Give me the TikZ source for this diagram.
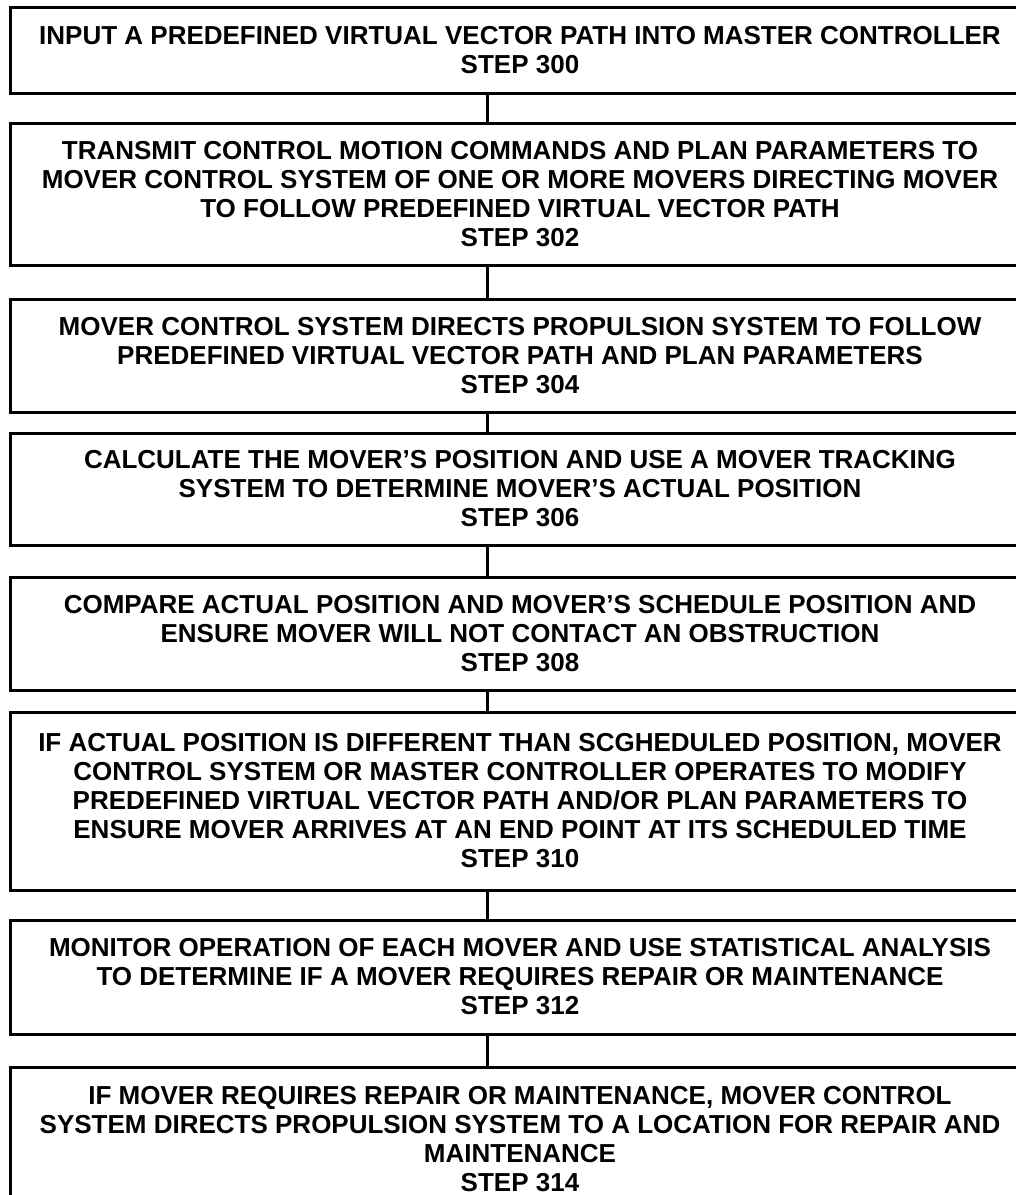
\documentclass[tikz,border=0pt]{standalone}
\usepackage{fontspec}
\setmainfont{Liberation Sans}
\begin{document}
\begin{tikzpicture}[x=1pt,y=-1pt,
  stepbox/.style={draw, line width=3pt, minimum width=1020pt, inner sep=0pt,
    align=center, font=\bfseries\fontsize{26}{29}\selectfont},
  link/.style={line width=3pt}]
\clip (0,0) rectangle (1016,1195);
\useasboundingbox (0,0) rectangle (1016,1195);
\coordinate (cx) at (487,0);
\node[stepbox, minimum height=86pt] (b1) at (520,50) {INPUT A PREDEFINED VIRTUAL VECTOR PATH INTO MASTER CONTROLLER\\STEP 300};
\node[stepbox, minimum height=142pt] (b2) at (520,194) {TRANSMIT CONTROL MOTION COMMANDS AND PLAN PARAMETERS TO\\MOVER CONTROL SYSTEM OF ONE OR MORE MOVERS DIRECTING MOVER\\TO FOLLOW PREDEFINED VIRTUAL VECTOR PATH\\STEP 302};
\node[stepbox, minimum height=113pt] (b3) at (520,355.5) {MOVER CONTROL SYSTEM DIRECTS PROPULSION SYSTEM TO FOLLOW\\PREDEFINED VIRTUAL VECTOR PATH AND PLAN PARAMETERS\\STEP 304};
\node[stepbox, minimum height=112pt] (b4) at (520,489) {CALCULATE THE MOVER'S POSITION AND USE A MOVER TRACKING\\SYSTEM TO DETERMINE MOVER'S ACTUAL POSITION\\STEP 306};
\node[stepbox, minimum height=113pt] (b5) at (520,633.5) {COMPARE ACTUAL POSITION AND MOVER'S SCHEDULE POSITION AND\\ENSURE MOVER WILL NOT CONTACT AN OBSTRUCTION\\STEP 308};
\node[stepbox, minimum height=178pt] (b6) at (520,801) {IF ACTUAL POSITION IS DIFFERENT THAN SCGHEDULED POSITION, MOVER\\CONTROL SYSTEM OR MASTER CONTROLLER OPERATES TO MODIFY\\PREDEFINED VIRTUAL VECTOR PATH AND/OR PLAN PARAMETERS TO\\ENSURE MOVER ARRIVES AT AN END POINT AT ITS SCHEDULED TIME\\STEP 310};
\node[stepbox, minimum height=114pt] (b7) at (520,977) {MONITOR OPERATION OF EACH MOVER AND USE STATISTICAL ANALYSIS\\TO DETERMINE IF A MOVER REQUIRES REPAIR OR MAINTENANCE\\STEP 312};
\node[stepbox, minimum height=144pt] (b8) at (520,1139) {IF MOVER REQUIRES REPAIR OR MAINTENANCE, MOVER CONTROL\\SYSTEM DIRECTS PROPULSION SYSTEM TO A LOCATION FOR REPAIR AND\\MAINTENANCE\\STEP 314};
\draw[link] (b1.south -| cx) -- (b2.north -| cx);
\draw[link] (b2.south -| cx) -- (b3.north -| cx);
\draw[link] (b3.south -| cx) -- (b4.north -| cx);
\draw[link] (b4.south -| cx) -- (b5.north -| cx);
\draw[link] (b5.south -| cx) -- (b6.north -| cx);
\draw[link] (b6.south -| cx) -- (b7.north -| cx);
\draw[link] (b7.south -| cx) -- (b8.north -| cx);
\end{tikzpicture}
\end{document}
